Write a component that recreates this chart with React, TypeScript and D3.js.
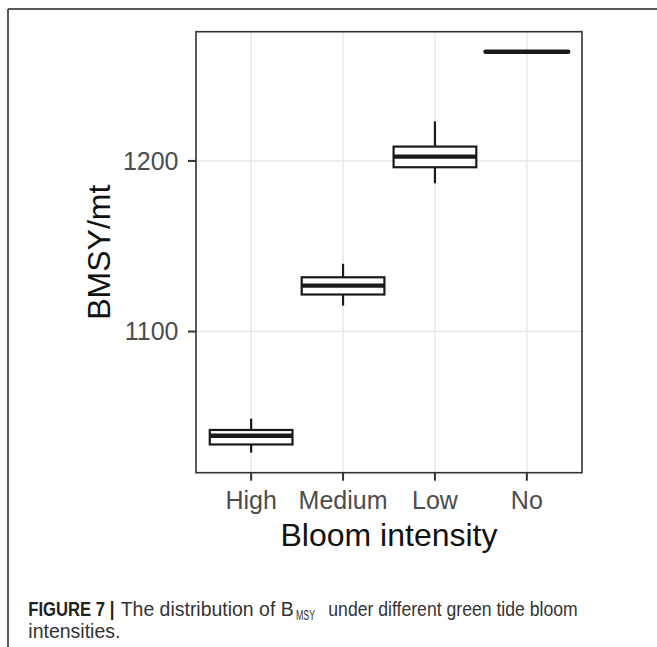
import React from "react";
import * as d3 from "d3";

const categories = ["High", "Medium", "Low", "No"];
const whiskerLow = [1029.0, 1115.2, 1186.9, 1264.0];
const q1 = [1033.8, 1121.7, 1196.3, 1264.0];
const medians = [1038.9, 1126.9, 1202.5, 1264.0];
const q3 = [1042.3, 1131.8, 1208.4, 1264.0];
const whiskerHigh = [1048.9, 1139.7, 1223.2, 1264.0];
const yTicks = [1100, 1200];

const W = 657;
const H = 647;
const panel = { left: 196, right: 582, top: 31.7, bottom: 472.7 };
const FONT = "'Liberation Sans', Arial, Helvetica, sans-serif";

export default function App() {
  const dMin = d3.min(whiskerLow) as number;
  const dMax = d3.max(whiskerHigh) as number;
  const pad = (dMax - dMin) * 0.05;
  const y = d3
    .scaleLinear()
    .domain([dMin - pad, dMax + pad])
    .range([panel.bottom, panel.top]);
  const x = d3
    .scalePoint<string>()
    .domain(categories)
    .range([panel.left, panel.right])
    .padding(0.6);
  const boxW = x.step() * 0.9;

  const boxStroke = "#1a1a1a";

  return (
    <svg
      width={W}
      height={H}
      style={{ position: "absolute", left: 0, top: 0, background: "#fff" }}
      fontFamily={FONT}
    >
      <rect x={0} y={0} width={W} height={H} fill="#fff" />
      {/* outer figure frame */}
      <line x1={8} y1={9} x2={W} y2={9} stroke="#222" strokeWidth={1.5} />
      <line x1={8} y1={9} x2={8} y2={H} stroke="#222" strokeWidth={1.5} />

      {/* gridlines */}
      {yTicks.map((t) => (
        <line
          key={"gy" + t}
          x1={panel.left}
          x2={panel.right}
          y1={y(t)}
          y2={y(t)}
          stroke="#e8e8e8"
          strokeWidth={1.4}
        />
      ))}
      {categories.map((c) => (
        <line
          key={"gx" + c}
          x1={x(c)}
          x2={x(c)}
          y1={panel.top}
          y2={panel.bottom}
          stroke="#e8e8e8"
          strokeWidth={1.4}
        />
      ))}

      {/* boxes */}
      {categories.map((c, i) => {
        const cx = x(c) as number;
        const flat = q1[i] === q3[i];
        return (
          <g key={"b" + c}>
            <line
              x1={cx}
              x2={cx}
              y1={y(whiskerHigh[i])}
              y2={y(q3[i])}
              stroke={boxStroke}
              strokeWidth={2.2}
            />
            <line
              x1={cx}
              x2={cx}
              y1={y(q1[i])}
              y2={y(whiskerLow[i])}
              stroke={boxStroke}
              strokeWidth={2.2}
            />
            <rect
              x={cx - boxW / 2}
              y={y(q3[i])}
              width={boxW}
              height={Math.max(0, y(q1[i]) - y(q3[i]))}
              fill="#fff"
              stroke={boxStroke}
              strokeWidth={2.2}
              strokeLinejoin={flat ? "round" : "miter"}
            />
            <line
              x1={cx - boxW / 2}
              x2={cx + boxW / 2}
              y1={y(medians[i])}
              y2={y(medians[i])}
              stroke={boxStroke}
              strokeWidth={4.4}
              strokeLinecap={flat ? "round" : "butt"}
            />
          </g>
        );
      })}

      {/* panel border */}
      <rect
        x={panel.left}
        y={panel.top}
        width={panel.right - panel.left}
        height={panel.bottom - panel.top}
        fill="none"
        stroke="#333"
        strokeWidth={1.6}
      />

      {/* y axis ticks & labels */}
      {yTicks.map((t) => (
        <g key={"yt" + t}>
          <line
            x1={panel.left - 8}
            x2={panel.left}
            y1={y(t)}
            y2={y(t)}
            stroke="#333"
            strokeWidth={2}
          />
          <text
            x={178.5}
            y={y(t)}
            dy="0.35em"
            textAnchor="end"
            fontSize={25}
            fill="#4d4d4d"
          >
            {t}
          </text>
        </g>
      ))}

      {/* x axis ticks & labels */}
      {categories.map((c) => (
        <g key={"xt" + c}>
          <line
            x1={x(c)}
            x2={x(c)}
            y1={panel.bottom}
            y2={panel.bottom + 8}
            stroke="#333"
            strokeWidth={2}
          />
          <text
            x={x(c)}
            y={508.5}
            textAnchor="middle"
            fontSize={25}
            fill="#4d4d4d"
          >
            {c}
          </text>
        </g>
      ))}

      {/* axis titles */}
      <text
        x={(panel.left + panel.right) / 2}
        y={546}
        textAnchor="middle"
        fontSize={32}
        fill="#111"
      >
        Bloom intensity
      </text>
      <text
        transform={`translate(110, ${(panel.top + panel.bottom) / 2}) rotate(-90)`}
        textAnchor="middle"
        fontSize={32}
        fill="#111"
      >
        BMSY/mt
      </text>

      {/* caption */}
      <text x={28.3} y={615.7} fontSize={19.5} fontWeight="bold" fill="#222" textLength={86} lengthAdjust="spacingAndGlyphs">
        FIGURE 7 |
      </text>
      <text x={120.7} y={615.7} fontSize={19.5} fill="#333" textLength={173} lengthAdjust="spacingAndGlyphs">
        The distribution of B
      </text>
      <text x={296} y={620} fontSize={14} fill="#333" textLength={19} lengthAdjust="spacingAndGlyphs">
        MSY
      </text>
      <text x={328.3} y={615.7} fontSize={19.5} fill="#333" textLength={249.4} lengthAdjust="spacingAndGlyphs">
        under different green tide bloom
      </text>
      <text x={28.3} y={637.7} fontSize={19.5} fill="#333">
        intensities.
      </text>
    </svg>
  );
}
